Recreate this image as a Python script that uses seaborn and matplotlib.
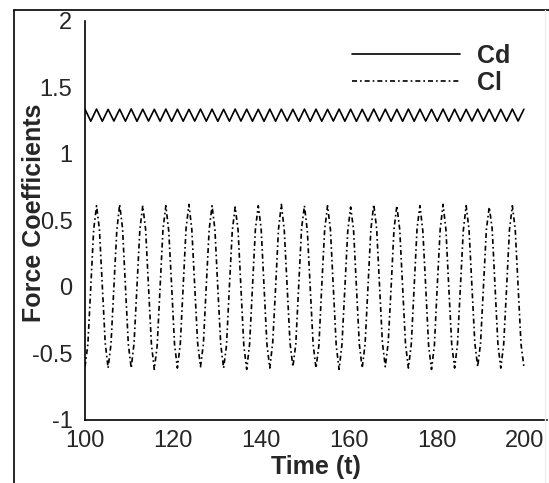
import numpy as np
import pandas as pd
import matplotlib
matplotlib.use("Agg")
import matplotlib.pyplot as plt
from matplotlib.lines import Line2D
from matplotlib.ticker import MultipleLocator
import seaborn as sns

# ---------------- data ----------------
# Cl sampled every 0.65625 time units starting at t = 100 (8 samples per shedding cycle)
cl_t0, cl_dt = 100.0, 0.65625
cl_values = [
    -0.60, -0.43, 0.00, 0.43, 0.61, 0.43, 0.01, -0.42,
    -0.61, -0.43, -0.01, 0.42, 0.62, 0.44, 0.00, -0.43,
    -0.61, -0.42, 0.00, 0.43, 0.61, 0.43, 0.00, -0.43,
    -0.62, -0.44, -0.01, 0.43, 0.61, 0.42, 0.01, -0.43,
    -0.61, -0.43, 0.00, 0.44, 0.62, 0.43, 0.00, -0.42,
    -0.60, -0.43, 0.01, 0.43, 0.61, 0.43, -0.01, -0.43,
    -0.61, -0.44, 0.00, 0.42, 0.60, 0.43, 0.00, -0.44,
    -0.62, -0.43, 0.00, 0.43, 0.61, 0.44, 0.01, -0.43,
    -0.61, -0.42, -0.01, 0.43, 0.62, 0.43, 0.00, -0.42,
    -0.60, -0.43, 0.00, 0.44, 0.61, 0.42, 0.00, -0.43,
    -0.61, -0.44, 0.01, 0.43, 0.61, 0.43, -0.01, -0.44,
    -0.62, -0.43, 0.00, 0.42, 0.60, 0.43, 0.00, -0.43,
    -0.61, -0.43, 0.00, 0.43, 0.62, 0.44, 0.01, -0.42,
    -0.60, -0.42, -0.01, 0.43, 0.61, 0.43, 0.00, -0.43,
    -0.61, -0.43, 0.00, 0.44, 0.61, 0.42, 0.00, -0.44,
    -0.62, -0.44, 0.01, 0.43, 0.62, 0.43, -0.01, -0.43,
    -0.61, -0.43, 0.00, 0.42, 0.61, 0.43, 0.00, -0.42,
    -0.60, -0.42, 0.00, 0.43, 0.60, 0.44, 0.01, -0.43,
    -0.61, -0.43, -0.01, 0.43, 0.61, 0.43, 0.00, -0.43,
    -0.60,
]

# Cd sampled every 1.3125 time units starting at t = 100 (peak / trough pairs)
cd_t0, cd_dt = 100.0, 1.3125
cd_values = [
    1.335, 1.245, 1.336, 1.244, 1.334, 1.246, 1.335, 1.245, 1.337, 1.244,
    1.335, 1.246, 1.334, 1.245, 1.336, 1.244, 1.335, 1.245, 1.334, 1.246,
    1.336, 1.245, 1.335, 1.244, 1.334, 1.245, 1.336, 1.246, 1.335, 1.245,
    1.334, 1.244, 1.336, 1.245, 1.335, 1.246, 1.334, 1.245, 1.336, 1.244,
    1.335, 1.245, 1.334, 1.246, 1.336, 1.245, 1.335, 1.244, 1.334, 1.245,
    1.336, 1.246, 1.335, 1.245, 1.334, 1.244, 1.336, 1.245, 1.335, 1.246,
    1.334, 1.245, 1.336, 1.244, 1.335, 1.245, 1.334, 1.246, 1.336, 1.245,
    1.335, 1.244, 1.334, 1.245, 1.336, 1.246, 1.335,
]

series_labels = ["Cd", "Cl"]
x_label = "Time (t)"
y_label = "Force Coefficients"
x_ticks = [100, 120, 140, 160, 180, 200]
y_ticks = [-1, -0.5, 0, 0.5, 1, 1.5, 2]
y_tick_labels = ["-1", "-0.5", "0", "0.5", "1", "1.5", "2"]

# ---------------- tables ----------------
cl_df = pd.DataFrame({"t": cl_t0 + cl_dt * np.arange(len(cl_values)), "v": cl_values})
cd_df = pd.DataFrame({"t": cd_t0 + cd_dt * np.arange(len(cd_values)), "v": cd_values})

# ---------------- styling ----------------
sns.set_style("white")
plt.rcParams["font.family"] = ["Liberation Sans", "DejaVu Sans"]

W, H = 549, 483
fig = plt.figure(figsize=(W / 100, H / 100), dpi=100)
ax = fig.add_axes([85 / W, 1 - 420 / H, (547 - 85) / W, (420 - 20.7) / H])

sns.lineplot(data=cd_df, x="t", y="v", ax=ax, color="black", lw=1.2,
             label=series_labels[0], estimator=None, sort=False)
sns.lineplot(data=cl_df, x="t", y="v", ax=ax, color="black", lw=1.2,
             linestyle=(0, (3.0, 1.8, 1.0, 1.8)),
             label=series_labels[1], estimator=None, sort=False)

ax.set_xlim(100, 205)
ax.set_ylim(-1, 2)
ax.set_xticks(x_ticks)
ax.set_xticklabels([str(v) for v in x_ticks])
ax.set_yticks(y_ticks)
ax.set_yticklabels(y_tick_labels)
ax.xaxis.set_minor_locator(MultipleLocator(5))
ax.yaxis.set_minor_locator(MultipleLocator(0.1))
ax.tick_params(which="both", direction="in", color="black", width=1)
ax.tick_params(which="major", length=6, labelsize=17, pad=7)
ax.tick_params(which="minor", length=3.5)
ax.tick_params(axis="y", which="major", pad=9)

for s in ["top", "right"]:
    ax.spines[s].set_visible(False)
for s in ["left", "bottom"]:
    ax.spines[s].set_color("black")
    ax.spines[s].set_linewidth(1.2)

ax.set_xlabel(x_label, fontsize=18, fontweight="bold")
ax.set_ylabel(y_label, fontsize=18, fontweight="bold")
ax.xaxis.set_label_coords(0.5, -0.087)
ax.yaxis.set_label_coords(-0.085, 0.52)

handles, labels = ax.get_legend_handles_labels()
leg = ax.legend(handles, labels, loc="upper left",
                bbox_to_anchor=((352 - 85) / (547 - 85), (420 - 44) / (420 - 20.7)),
                frameon=False, prop={"weight": "bold", "size": 18},
                handlelength=4.3, handletextpad=0.7, labelspacing=0.12,
                borderpad=0, borderaxespad=0)

# figure frame (left & top dark, right faint)
fig.add_artist(Line2D([14 / W, 14 / W], [0, 1 - 10 / H], transform=fig.transFigure,
                      color="black", lw=1.2))
fig.add_artist(Line2D([14 / W, 1], [1 - 10 / H, 1 - 10 / H], transform=fig.transFigure,
                      color="black", lw=1.2))
fig.add_artist(Line2D([545 / W, 545 / W], [0, 1 - 10 / H], transform=fig.transFigure,
                      color="#ececec", lw=1))

fig.savefig("out.png", dpi=100)
